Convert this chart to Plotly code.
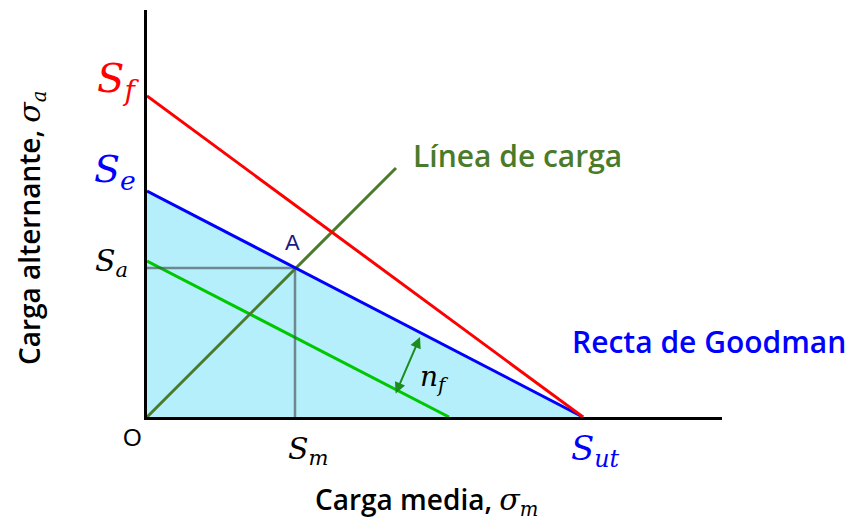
import plotly.graph_objects as go

# Conceptual Goodman diagram values (data units ~ pixels)
S_f = 321          # fatigue strength intercept (red line)
S_e = 226          # endurance limit intercept (blue line)
S_ut = 436         # ultimate tensile strength intercept
S_a = 149          # alternating stress at point A
S_m = 148          # mean stress at point A
green_y0 = 156     # safety-factor line intercept on sigma_a
green_x0 = 302     # safety-factor line intercept on sigma_m
load_end = 249     # end of the load line
x_max = 575
y_max = 407

RED = "#ff0000"
BLUE = "#0000ff"
GREEN = "#00c800"
OLIVE = "#4a7b2b"
FILL = "#b5effb"
MATH = "DejaVu Serif"
SANS = "Open Sans"

fig = go.Figure()

fig.add_trace(go.Scatter(x=[0, 0, S_ut, 0], y=[0, S_e, 0, 0], fill="toself",
                         fillcolor=FILL, line=dict(width=0), mode="lines",
                         hoverinfo="skip"))
fig.add_trace(go.Scatter(x=[0, green_x0], y=[green_y0, 0], mode="lines",
                         line=dict(color=GREEN, width=3)))
fig.add_trace(go.Scatter(x=[0, S_m, S_m], y=[S_a, S_a, 0], mode="lines",
                         line=dict(color="rgba(70,80,85,0.65)", width=2.5)))
fig.add_trace(go.Scatter(x=[0, load_end], y=[0, load_end], mode="lines",
                         line=dict(color=OLIVE, width=3)))
fig.add_trace(go.Scatter(x=[0, S_ut], y=[S_e, 0], mode="lines",
                         line=dict(color=BLUE, width=3)))
fig.add_trace(go.Scatter(x=[0, S_ut], y=[S_f, 0], mode="lines",
                         line=dict(color=RED, width=3)))

def px(x):
    return x / x_max

def py(y):
    return y / y_max

ann = []
def txt(x, y, text, size, color, family, xanchor="center", italic=True, angle=0, weight=400):
    t = f"<i>{text}</i>" if italic else text
    ann.append(dict(x=px(x), y=py(y), xref="paper", yref="paper", text=t, showarrow=False,
                    xanchor=xanchor, yanchor="middle", textangle=angle,
                    font=dict(size=size, color=color, family=family, weight=weight)))

sig = lambda s: (f"<span style='font-family:DejaVu Serif;font-size:30px;font-weight:normal'><i>σ</i></span>"
                 f"<span style='font-family:DejaVu Serif;font-weight:normal'><i><sub>{s}</sub></i></span>")

txt(-29, 336, "S<sub>f</sub>", 40, RED, MATH)
txt(-32, 245, "S<sub>e</sub>", 38, BLUE, MATH)
txt(-36, 155, "S<sub>a</sub>", 30, "black", MATH)
txt(161, -34, "S<sub>m</sub>", 30, "black", MATH)
txt(448, -33, "S<sub>ut</sub>", 34, BLUE, MATH)
txt(287, 39, "n<sub>f</sub>", 28, "black", MATH)
txt(-15, -20, "O", 24, "black", "Liberation Sans", italic=False)
txt(145, 175, "A", 22, "#1a1a80", "Liberation Sans", italic=False)
txt(370, 262, "Línea de carga", 30, OLIVE, SANS, italic=False, weight=600)
txt(423, 76, "Recta de Goodman", 30, BLUE, SANS, xanchor="left", italic=False, weight=600)
txt(-117, 189, "Carga alternante, " + sig("a"), 28, "black", SANS, italic=False, angle=-90, weight=600)
txt(279, -83, "Carga media, " + sig("m"), 28, "black", SANS, italic=False, weight=600)

# nf double arrow between green and blue lines
ann.append(dict(x=273, y=80, ax=248, ay=22, xref="x", yref="y", axref="x", ayref="y",
                text="", showarrow=True, arrowhead=2, arrowside="end+start",
                arrowsize=1.1, arrowwidth=2, arrowcolor="#1c8c1c"))

fig.update_layout(
    width=846, height=522,
    margin=dict(l=147, r=124, t=10, b=105),
    plot_bgcolor="white", paper_bgcolor="white",
    showlegend=False, annotations=ann,
    xaxis=dict(range=[0, x_max], showgrid=False, zeroline=False, showticklabels=False,
               ticks="", showline=True, linecolor="black", linewidth=3),
    yaxis=dict(range=[0, y_max], showgrid=False, zeroline=False, showticklabels=False,
               ticks="", showline=True, linecolor="black", linewidth=3),
)

fig.write_html("out.html", config={"displayModeBar": False},
               post_script="document.body.style.margin='0px';")
